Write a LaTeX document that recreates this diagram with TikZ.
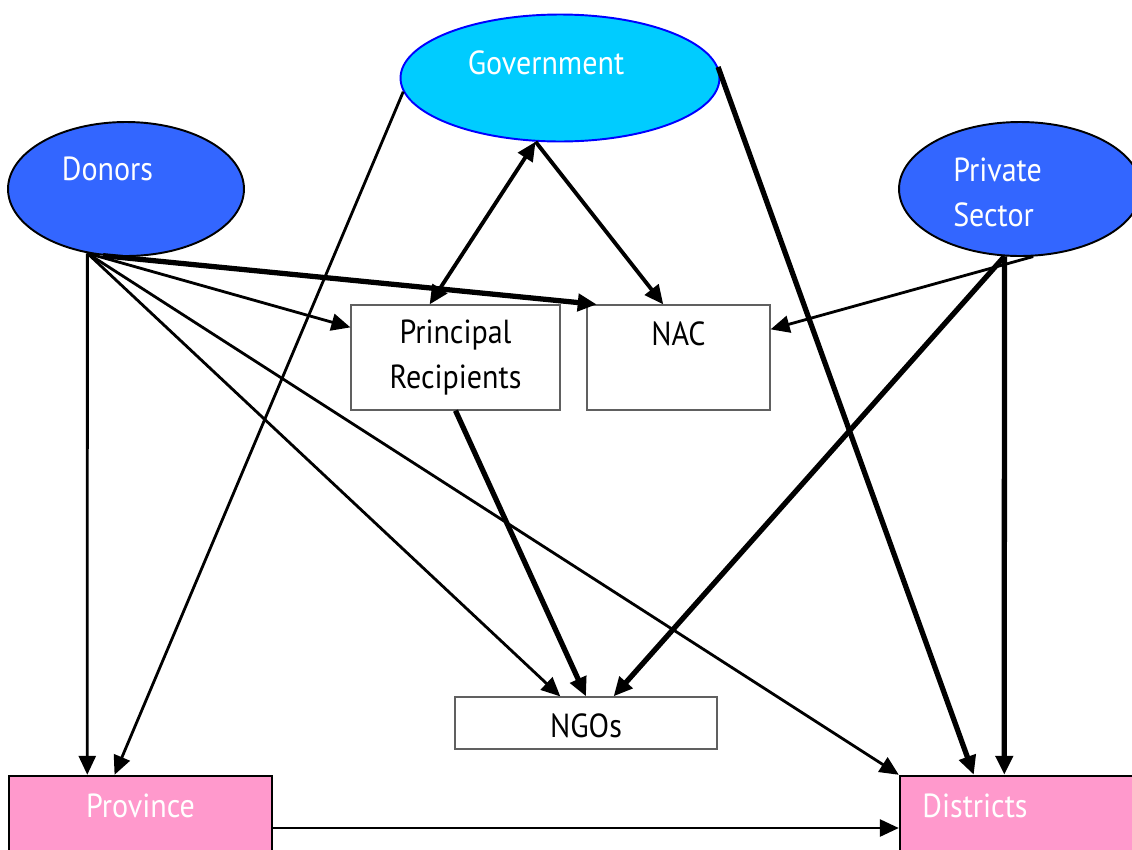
\documentclass[tikz,border=0pt]{standalone}
\usepackage{fontspec}
\setmainfont{PT Sans}[FakeStretch=0.9]
\usetikzlibrary{arrows.meta,shapes.geometric}
\definecolor{govfill}{HTML}{00CCFF}
\definecolor{govline}{HTML}{0000FF}
\definecolor{actorfill}{HTML}{3366FF}
\definecolor{levelfill}{HTML}{FF99CC}
\definecolor{boxline}{HTML}{606060}
% text moved off the node centre: dx, dy, text
\newcommand{\offtext}[3]{\raisebox{\dimexpr#2-0.2cm\relax}[0pt][0pt]{\makebox[0pt]{\hspace*{#1}\hspace*{#1}#3}}}

\begin{document}
\begin{tikzpicture}[x=0.02cm,y=-0.02cm,font=\fontsize{19}{25.5}\selectfont,
>={Triangle[length=3.8mm,width=3.4mm]},
oval/.style={ellipse,draw=#1,line width=1.1pt,inner sep=0pt,text=white},
box/.style={rectangle,draw=boxline,fill=white,line width=.7pt,inner sep=0pt},
level/.style={rectangle,draw=black,fill=levelfill,line width=1.4pt,inner sep=0pt,text=white,minimum height=2.08cm},
arrow/.style={->,line width=1.6pt},
heavy/.style={->,line width=3pt}]
\useasboundingbox (0,0) rectangle (1132,849);
\node[oval=govline,fill=govfill,minimum width=6.38cm,minimum height=2.54cm] (gov) at (560,78) {\offtext{-0.28cm}{0.28cm}{Government}};
\node[oval=black,fill=actorfill,minimum width=4.72cm,minimum height=2.68cm] (donors) at (126,189) {\offtext{-0.37cm}{0.38cm}{Donors}};
\node[oval=black,fill=actorfill,minimum width=4.84cm,minimum height=2.68cm] (private) at (1020,189) {\offtext{-0.45cm}{-0.07cm}{\begin{tabular}{@{}l@{}}Private\\Sector\end{tabular}}};
\node[box,minimum width=4.18cm,minimum height=2.1cm,align=center] (pr) at (455.5,357.5) {Principal\\Recipients};
\node[box,minimum width=3.66cm,minimum height=2.1cm] (nac) at (678.5,357.5) {\offtext{0cm}{0.45cm}{NAC}};
\node[box,minimum width=5.24cm,minimum height=1.04cm] (ngos) at (586,723) {\offtext{0cm}{-0.09cm}{NGOs}};
\node[level,minimum width=5.26cm] (province) at (140.5,828) {\offtext{0cm}{0.42cm}{Province}};
\node[level,minimum width=5.4cm] (districts) at (1035,828) {\offtext{-1.2cm}{0.42cm}{Districts}};

\draw[arrow] (gov.185) -- (province.116);
\draw[heavy] (gov.4) -- (districts.139);
\draw[<->,line width=2.2pt] (pr.116) -- (gov.249);
\draw[arrow,line width=2.2pt] (gov.249) -- (nac.106);
\draw[arrow] (donors.239) -- (province.135);
\draw[arrow] (donors.239) -- (pr.164);
\draw[heavy] (donors.251) -- (nac.147);
\draw[arrow] (donors.239) -- (ngos.134);
\draw[arrow] (donors.239) -- (districts.north west);
\draw[arrow] (private.281) -- (nac.17);
\draw[heavy] (private.257) -- (ngos.44);
\draw[heavy] (private.257) -- (districts.120);
\draw[heavy] (pr.south) -- (ngos.north);
\draw[arrow] (province.east) -- (districts.west);
\end{tikzpicture}
\end{document}
